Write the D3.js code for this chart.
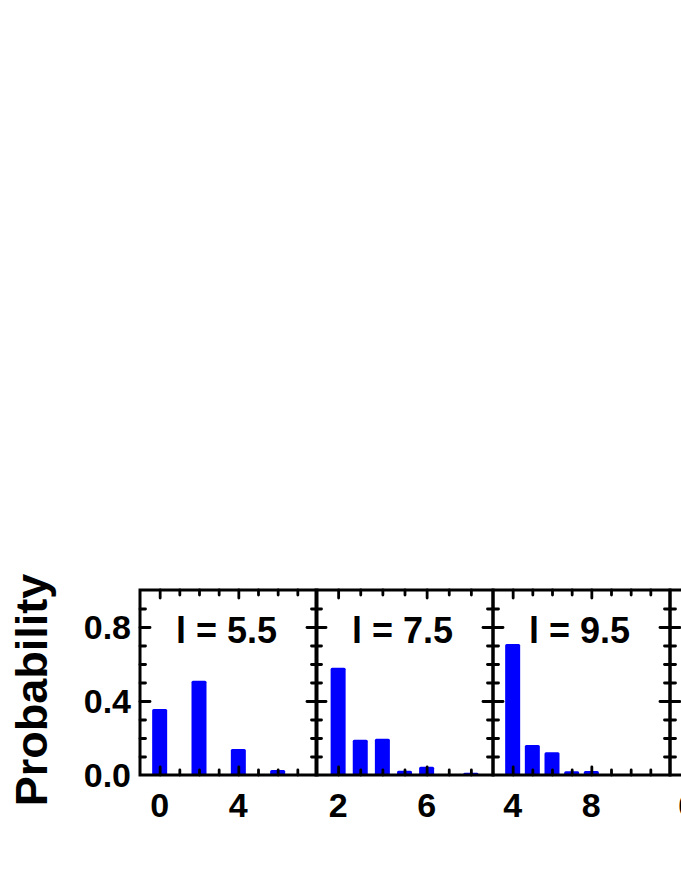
<!DOCTYPE html>
<meta charset="utf-8">
<script src="https://d3js.org/d3.v7.min.js"></script>
<style>
  body { margin: 0; background: #fff; }
  text { font-family: "Liberation Sans", Arial, sans-serif; font-weight: bold; fill: #000; }
</style>
<div id="chart"></div>
<script>
// panel titles, x ranges and labelled ticks (4th panel is cut off by the frame edge)
const panelTitles = ["l = 5.5", "l = 7.5", "l = 9.5", ""];
const xDomains = [[-1, 8], [1, 9], [3, 12], [5, 14]];
const xLabelTicks = [[0, 4], [2, 6], [4, 8], [6, 10]];

// bars: photon number n and probability
const n1 = [0, 2, 4, 6];
const p1 = [0.357, 0.51, 0.14, 0.027];
const n2 = [2, 3, 4, 5, 6, 8];
const p2 = [0.58, 0.19, 0.196, 0.023, 0.045, 0.012];
const n3 = [4, 5, 6, 7, 8];
const p3 = [0.708, 0.162, 0.123, 0.02, 0.022];
const n4 = [];
const p4 = [];

const yLabelTicks = [0, 0.4, 0.8];
const yMinorTicks = d3.range(0, 1.0001, 0.1);
const yTitle = "Probability";

const W = 681, H = 881;
const yTop = 590, yBottom = 775;
const panelLeft = [140, 316, 493, 670];
const panelW = 177;
const barW = 15;

const svg = d3.select("#chart").append("svg")
    .attr("width", W)
    .attr("height", H);

const y = d3.scaleLinear().domain([0, 1]).range([yBottom, yTop]);

const series = [[n1, p1], [n2, p2], [n3, p3], [n4, p4]];

function styleTicks(g, w) {
    g.select(".domain").remove();
    g.selectAll(".tick line")
        .attr("stroke", "#000")
        .attr("stroke-width", w)
        .attr("stroke-linecap", "round");
}

series.forEach(function (s, i) {
    const x0 = panelLeft[i];
    const x = d3.scaleLinear().domain(xDomains[i]).range([x0, x0 + panelW]);
    const g = svg.append("g");

    // bars
    const bars = s[0].map((n, k) => ({ n: n, p: s[1][k] }));
    g.selectAll("rect.bar")
        .data(bars)
        .join("rect")
        .attr("class", "bar")
        .attr("x", d => x(d.n) - barW / 2)
        .attr("y", d => y(d.p))
        .attr("width", barW)
        .attr("height", d => y(0) - y(d.p))
        .attr("rx", 1.5)
        .attr("fill", "#0000ff");

    const xInts = d3.range(Math.ceil(xDomains[i][0]) + 1, xDomains[i][1]);
    const xMinor = xInts.filter(v => xLabelTicks[i].indexOf(v) < 0);

    // x ticks, inward on bottom and top
    [[d3.axisBottom, yBottom], [d3.axisTop, yTop]].forEach(function (a) {
        g.append("g")
            .attr("transform", `translate(0,${a[1]})`)
            .call(a[0](x).tickValues(xMinor).tickSize(-5).tickSizeOuter(0).tickFormat(""))
            .call(styleTicks, 2.8);
        g.append("g")
            .attr("transform", `translate(0,${a[1]})`)
            .call(a[0](x).tickValues(xLabelTicks[i]).tickSize(-8).tickSizeOuter(0).tickFormat(""))
            .call(styleTicks, 2.8);
    });

    // y ticks, inward on left and right
    const yMinor = yMinorTicks.filter(v => !yLabelTicks.some(t => Math.abs(t - v) < 1e-6) && v < 0.99);
    [[d3.axisLeft, x0], [d3.axisRight, x0 + panelW]].forEach(function (a) {
        g.append("g")
            .attr("transform", `translate(${a[1]},0)`)
            .call(a[0](y).tickValues(yMinor).tickSize(-5.5).tickSizeOuter(0).tickFormat(""))
            .call(styleTicks, 2.8);
        g.append("g")
            .attr("transform", `translate(${a[1]},0)`)
            .call(a[0](y).tickValues(yLabelTicks.filter(v => v > 0)).tickSize(-10).tickSizeOuter(0).tickFormat(""))
            .call(styleTicks, 2.8);
    });

    // frame
    g.append("rect")
        .attr("x", x0)
        .attr("y", yTop)
        .attr("width", panelW)
        .attr("height", yBottom - yTop)
        .attr("fill", "none")
        .attr("stroke", "#000")
        .attr("stroke-width", 3);

    // x tick labels
    g.selectAll("text.xl")
        .data(xLabelTicks[i])
        .join("text")
        .attr("class", "xl")
        .attr("x", d => x(d) - (i === 3 ? 2 : 0))
        .attr("y", 817)
        .attr("text-anchor", "middle")
        .style("font-size", "34px")
        .text(d => d);

    // panel title
    if (panelTitles[i]) {
        g.append("text")
            .attr("x", x0 + panelW / 2 - 2)
            .attr("y", 643)
            .attr("text-anchor", "middle")
            .style("font-size", "36px")
            .text(panelTitles[i]);
    }
});

// y tick labels on the first panel
svg.selectAll("text.yl")
    .data(yLabelTicks)
    .join("text")
    .attr("class", "yl")
    .attr("x", 131)
    .attr("y", d => y(d) + 12)
    .attr("text-anchor", "end")
    .style("font-size", "34px")
    .text(d => d3.format(".1f")(d));

// y title
svg.append("text")
    .attr("transform", `translate(47,${(575 + 805) / 2}) rotate(-90)`)
    .attr("text-anchor", "middle")
    .style("font-size", "45px")
    .text(yTitle);
</script>
